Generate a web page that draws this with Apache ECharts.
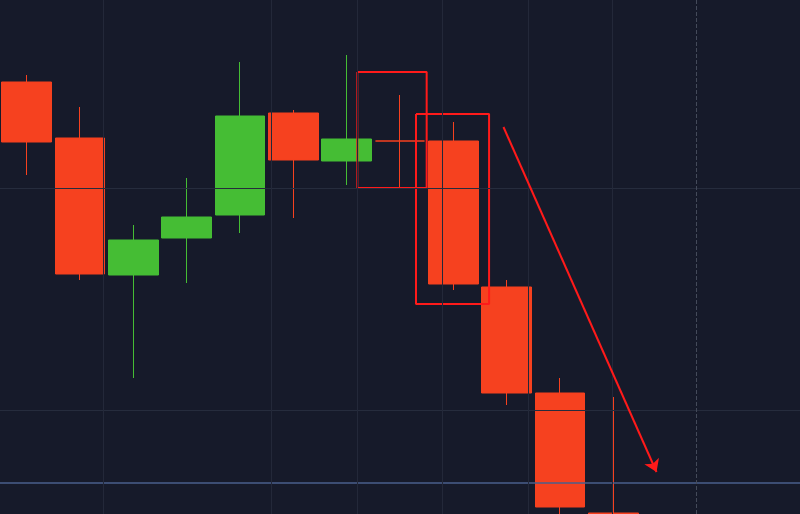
<!DOCTYPE html><html><head><meta charset="utf-8"><script src="https://cdn.jsdelivr.net/npm/echarts@6/dist/echarts.min.js"></script>
<style>html,body{margin:0;background:#161a2a}#c{width:800px;height:514px}</style></head><body><div id="c"></div><script>
const categories=['1','2','3','4','5','6','7','8','9','10','11','12','13','14','15'];
// [open, close, low, high]
const candles=[[518,458,425,525],[462,326,320,493],[325,360,222,375],[362,383,317,422],[385,484,367,538],[487,440,382,490],[439,461,415,545],[459,459,413,505],[459,316,310,478],[313,207,195,320],[207,93,86,222],[87,60,55,203],'-','-','-'];
const vLines=[1.44,4.59,6.20,7.80,9.41,10.98,12.56];
const hLines=[412,190];
const blueLine=117;
const rect1=[[6.20,528],[7.50,528],[7.50,412],[6.20,412],[6.20,528]];
const rect2=[[7.30,486],[8.67,486],[8.67,296],[7.30,296],[7.30,486]];
const arrow=[[8.94,473],[11.81,128]];
const ch=echarts.init(document.getElementById('c'));
ch.setOption({backgroundColor:'#161a2a',animation:false,
grid:{left:0,top:0,width:810,height:514},
xAxis:[{type:'category',data:categories,show:false},{type:'value',min:-0.5,max:14.5,show:false}],
yAxis:{type:'value',min:86,max:600,show:false,splitLine:{show:false}},
series:[
{type:'candlestick',data:candles,barWidth:50,itemStyle:{color:'#45bd34',color0:'#f6411f',borderColor:'#45bd34',borderColor0:'#f6411f',borderWidth:1},
 markLine:{silent:true,symbol:'none',label:{show:false},data:[...hLines.map(v=>({yAxis:v,lineStyle:{color:'#262c3d',type:'solid',width:1}})),{yAxis:blueLine,lineStyle:{color:'#4a5f8c',type:'solid',width:1.5}}]}},
{type:'line',xAxisIndex:1,data:[],markLine:{silent:true,symbol:'none',label:{show:false},data:vLines.map((x,i)=>({xAxis:x,lineStyle:{color:i==vLines.length-1?'#444a5a':'#232839',type:i==vLines.length-1?'dashed':'solid',width:1}}))},z:0},
{type:'line',xAxisIndex:1,data:rect1,symbol:'none',lineStyle:{color:'#ff1a1a',width:2}},
{type:'line',xAxisIndex:1,data:rect2,symbol:'none',lineStyle:{color:'#ff1a1a',width:2}},
{type:'line',xAxisIndex:1,data:[],markLine:{silent:true,symbol:['none','arrow'],symbolSize:12,label:{show:false},lineStyle:{color:'#ff1a1a',width:2,type:'solid'},data:[[{coord:arrow[0]},{coord:arrow[1]}]]}}
]});
</script></body></html>
